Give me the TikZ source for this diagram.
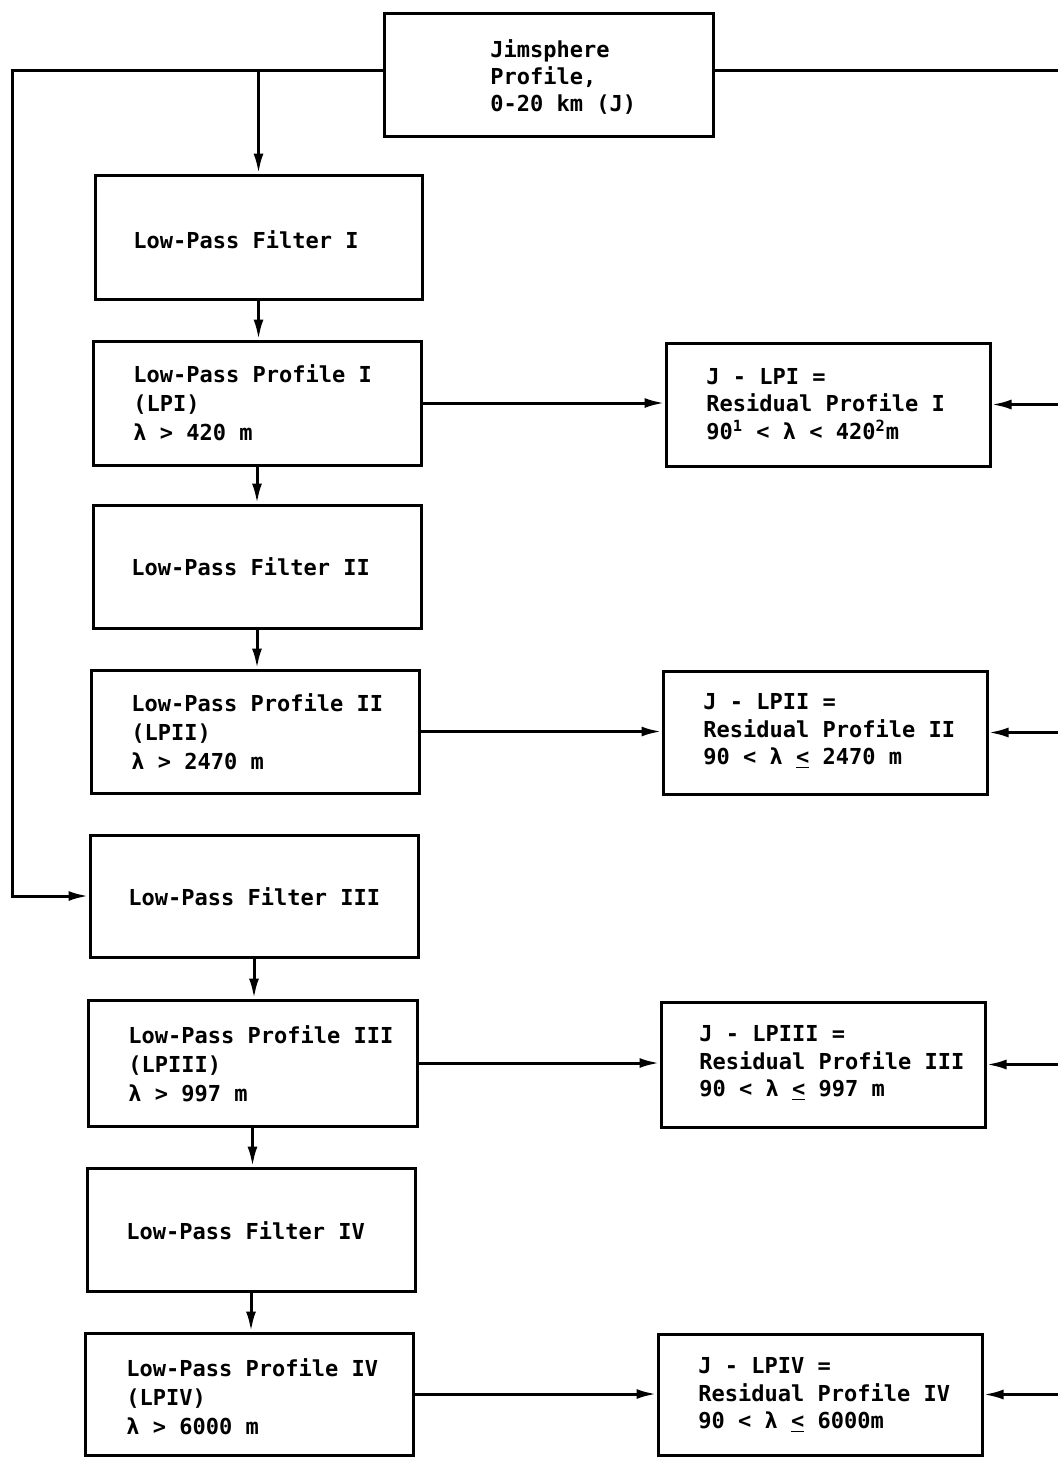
\documentclass[tikz,border=0pt]{standalone}
\usepackage{fontspec}
\setmainfont{DejaVu Sans Mono}
\usetikzlibrary{arrows.meta}
\tikzset{
  box/.style={draw, line width=1.5pt, inner sep=0pt},
  txt/.style={anchor=west, inner sep=0pt, align=left, font=\bfseries\fontsize{11}{14.5}\selectfont},
  rtxt/.style={txt, font=\bfseries\fontsize{11}{13.6}\selectfont},
  conn/.style={line width=1.5pt},
  arr/.style={conn, -{Latex[length=10pt,width=5pt]}}
}
\begin{document}
\begin{tikzpicture}[x=0.5pt,y=-0.5pt]
\useasboundingbox[fill=white] (0,0) rectangle (1058,1457);
% boxes
\node[box, minimum width=164.5pt, minimum height=61.5pt] (jim) at (548.5,74.5) {};
\node[box, minimum width=163.5pt, minimum height=62pt] (lpf1) at (258.5,237) {};
\node[box, minimum width=164pt, minimum height=62pt] (lpp1) at (257,403) {};
\node[box, minimum width=162pt, minimum height=61.5pt] (res1) at (828,404.5) {};
\node[box, minimum width=164pt, minimum height=61.5pt] (lpf2) at (257,566.5) {};
\node[box, minimum width=164pt, minimum height=61.5pt] (lpp2) at (255,731.5) {};
\node[box, minimum width=162pt, minimum height=61.5pt] (res2) at (825,732.5) {};
\node[box, minimum width=164pt, minimum height=61pt] (lpf3) at (254,896) {};
\node[box, minimum width=164.5pt, minimum height=63pt] (lpp3) at (252.5,1063) {};
\node[box, minimum width=162pt, minimum height=62.5pt] (res3) at (823,1064.5) {};
\node[box, minimum width=164pt, minimum height=61.5pt] (lpf4) at (251,1229.5) {};
\node[box, minimum width=164pt, minimum height=61pt] (lpp4) at (249,1394) {};
\node[box, minimum width=162pt, minimum height=60.5pt] (res4) at (820,1394.5) {};
% texts
\node[rtxt] (tjim) at (490,77) {Jimsphere\\Profile,\\0-20 km (J)};
\node[txt] (tlpf1) at (133,240) {Low-Pass Filter I};
\node[txt] (tlpp1) at (133,403) {Low-Pass Profile I\\(LPI)\\λ > 420 m};
\node[rtxt] (tres1) at (706,404) {J - LPI =\\Residual Profile I\\90\textsuperscript{1} < λ < 420\textsuperscript{2}m};
\node[txt] (tlpf2) at (131,567) {Low-Pass Filter II};
\node[txt] (tlpp2) at (131,732) {Low-Pass Profile II\\(LPII)\\λ > 2470 m};
\node[rtxt] (tres2) at (703,731) {J - LPII =\\Residual Profile II\\90 < λ \underline{<} 2470 m};
\node[txt] (tlpf3) at (128,897) {Low-Pass Filter III};
\node[txt] (tlpp3) at (128,1064) {Low-Pass Profile III\\(LPIII)\\λ > 997 m};
\node[rtxt] (tres3) at (699,1063) {J - LPIII =\\Residual Profile III\\90 < λ \underline{<} 997 m};
\node[txt] (tlpf4) at (126,1231) {Low-Pass Filter IV};
\node[txt] (tlpp4) at (126,1397) {Low-Pass Profile IV\\(LPIV)\\λ > 6000 m};
\node[rtxt] (tres4) at (698,1395) {J - LPIV =\\Residual Profile IV\\90 < λ \underline{<} 6000m};
% routing coordinates
\coordinate (tl) at (12,70);
\coordinate (tr) at (1062,70);
% left bus
\draw[arr] (jim.west |- tl) -- (tl) -- (tl |- lpf3) -- (lpf3.west);
\draw[arr] (lpf1.north |- tl) -- (lpf1.north);
% right bus
\draw[arr] (jim.east |- tr) -- (tr) -- (tr |- res4) -- (res4.east);
\draw[arr] (tr |- res1) -- (res1.east);
\draw[arr] (tr |- res2) -- (res2.east);
\draw[arr] (tr |- res3) -- (res3.east);
% column
\draw[arr] (lpf1.south) -- (lpf1.south |- lpp1.north);
\draw[arr] (lpp1.south) -- (lpp1.south |- lpf2.north);
\draw[arr] (lpf2.south) -- (lpf2.south |- lpp2.north);
\draw[arr] (lpf3.south) -- (lpf3.south |- lpp3.north);
\draw[arr] (lpp3.south) -- (lpp3.south |- lpf4.north);
\draw[arr] (lpf4.south) -- (lpf4.south |- lpp4.north);
% to residuals
\draw[arr] (lpp1.east) -- (lpp1.east -| res1.west);
\draw[arr] (lpp2.east) -- (lpp2.east -| res2.west);
\draw[arr] (lpp3.east) -- (lpp3.east -| res3.west);
\draw[arr] (lpp4.east) -- (lpp4.east -| res4.west);
\end{tikzpicture}
\end{document}
